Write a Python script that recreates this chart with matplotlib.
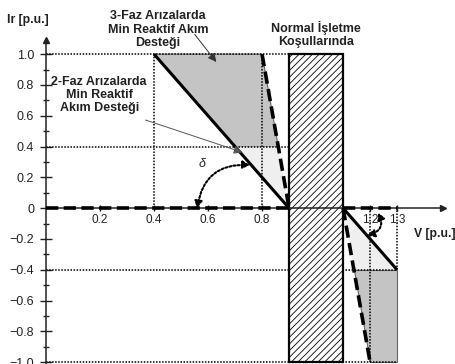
import numpy as np
import matplotlib.pyplot as plt
from matplotlib.patches import Polygon, Rectangle

plt.rcParams['font.family'] = ['Liberation Sans', 'DejaVu Sans']
plt.rcParams['hatch.linewidth'] = 0.6

# --- limit curves (V [p.u.], Ir [p.u.]) ---
solid_under_v = [0.4, 0.9]
solid_under_i = [1.0, 0.0]
dash_under_v = [0.8, 0.9]
dash_under_i = [1.0, 0.0]
solid_over_v = [1.1, 1.3]
solid_over_i = [0.0, -0.4]
dash_over_v = [1.1, 1.2]
dash_over_i = [0.0, -1.0]
normal_band = [0.9, 1.1]
split_level = 0.4

# dotted guide lines
h_guides = [(1.0, 0.0, 0.9), (0.4, 0.0, 0.9), (-0.4, 0.0, 1.3), (-1.0, 0.0, 1.3)]
v_guides = [(0.4, 0.0, 1.0), (0.8, 0.0, 1.0), (1.1, -1.0, 1.0), (1.2, -1.0, 0.0), (1.3, -0.4, 0.0)]

x_ticks = [0.2, 0.4, 0.6, 0.8, 1.0, 1.2, 1.3]
x_labels = ["0.2", "0.4", "0.6", "0.8", "1.0", "1.2", "1.3"]
y_ticks = [1.0, 0.8, 0.6, 0.4, 0.2, 0.0, -0.2, -0.4, -0.6, -0.8, -1.0]
y_labels = ["1.0", "0.8", "0.6", "0.4", "0.2", "0", "\u22120.2", "\u22120.4", "\u22120.6", "\u22120.8", "\u22121.0"]


def v_at(vs, is_, level):
    return float(np.interp(level, is_[::-1], vs[::-1])) if is_[0] > is_[1] else float(np.interp(level, is_, vs))


def main() -> None:
    fig = plt.figure(figsize=(4.56, 3.64), dpi=100)
    ax = fig.add_axes([46 / 456, 0.0, 397 / 456, 323.7 / 364])
    ax.set_xlim(0, 1.47)
    ax.set_ylim(-1.012, 1.09)

    dark, light = "#c4c4c4", "#efefef"

    # --- shaded support regions, under-voltage side ---
    s_top = v_at(solid_under_v, solid_under_i, split_level)
    d_top = v_at(dash_under_v, dash_under_i, split_level)
    ax.add_patch(Polygon([(solid_under_v[0], 1.0), (dash_under_v[0], 1.0), (d_top, split_level), (s_top, split_level)],
                         closed=True, fc=dark, ec="#666666", lw=0.8, zorder=1))
    ax.add_patch(Polygon([(s_top, split_level), (d_top, split_level), (solid_under_v[1], 0.0)],
                         closed=True, fc=light, ec="none", zorder=1))

    # --- over-voltage side ---
    d_low = v_at(dash_over_v, dash_over_i, -split_level)
    ax.add_patch(Polygon([(solid_over_v[0], 0.0), (solid_over_v[1], -split_level), (d_low, -split_level)],
                         closed=True, fc=light, ec="none", zorder=1))
    ax.add_patch(Polygon([(d_low, -split_level), (solid_over_v[1], -split_level), (solid_over_v[1], -1.0), (dash_over_v[1], -1.0)],
                         closed=True, fc=dark, ec="#666666", lw=0.8, zorder=1))

    # --- dotted guides ---
    for y, x0, x1 in h_guides:
        ax.plot([x0, x1], [y, y], color="black", lw=1.1, ls=(0, (1, 1)), zorder=2)
    for x, y0, y1 in v_guides:
        ax.plot([x, x], [y0, y1], color="black", lw=1.1, ls=(0, (1, 1)), zorder=2)

    # --- normal operating band ---
    ax.add_patch(Rectangle((normal_band[0], -1.0), normal_band[1] - normal_band[0], 2.0,
                           fc="white", ec="black", lw=1.6, hatch="/////", zorder=3))

    # --- limit lines ---
    ax.plot(solid_under_v, solid_under_i, color="black", lw=2.2, zorder=5, solid_capstyle="butt")
    ax.plot(solid_over_v, solid_over_i, color="black", lw=2.2, zorder=5, solid_capstyle="butt")
    dash_kw = dict(color="black", lw=2.6, ls=(0, (3.4, 1.5)), zorder=6)
    ax.plot(dash_under_v, dash_under_i, **dash_kw)
    ax.plot(dash_over_v, dash_over_i, **dash_kw)
    ax.plot([0.0, normal_band[0]], [0, 0], **dash_kw)
    ax.plot([normal_band[1], 1.3], [0, 0], **dash_kw)

    # --- axes through origin ---
    for side in ["top", "right"]:
        ax.spines[side].set_visible(False)
    ax.spines["left"].set_position(("data", 0))
    ax.spines["bottom"].set_position(("data", 0))
    for side in ["left", "bottom"]:
        ax.spines[side].set_linewidth(1.1)
        ax.spines[side].set_color("#222222")
        ax.spines[side].set_zorder(4)
    ax.plot(1, 0, ">", color="#222222", ms=4, transform=ax.get_yaxis_transform(), clip_on=False)
    ax.plot(0, 1, "^", color="#222222", ms=4, transform=ax.get_xaxis_transform(), clip_on=False)

    ax.set_xticks(x_ticks)
    ax.set_xticklabels(x_labels)
    ax.set_yticks(y_ticks)
    ax.set_yticklabels(y_labels)
    ax.set_yticks(np.arange(-0.9, 1.0, 0.2), minor=True)
    ax.tick_params(axis="x", direction="inout", length=5, width=1, pad=2, labelsize=8.5, colors="#222222")
    ax.tick_params(axis="y", direction="inout", length=9, width=1, pad=4, labelsize=9, colors="#222222")
    ax.tick_params(axis="y", which="minor", direction="inout", length=4, width=1, colors="#222222")

    # --- labels / annotations ---
    txt = dict(fontsize=9, fontweight="bold", color="#222222", ha="center", va="center", linespacing=1.15)
    ax.text(-0.067, 1.225, "Ir [p.u.]", ha="center", va="center", fontsize=8.8, fontweight="bold",
            color="#222222", clip_on=False)
    ax.text(1.44, -0.17, "V [p.u.]", ha="center", va="center", fontsize=8.8, fontweight="bold",
            color="#222222", clip_on=False)
    ax.text(0.415, 1.158, "3-Faz Arızalarda\nMin Reaktif Akım\nDesteği", clip_on=False, **txt)
    ax.text(0.197, 0.735, "2-Faz Arızalarda\nMin Reaktif\nAkım Desteği", **txt)
    ax.text(1.0, 1.127, "Normal İşletme\nKoşullarında", clip_on=False, **txt)

    ax.annotate("", xy=(0.637, 0.935), xytext=(0.544, 1.143),
                arrowprops=dict(arrowstyle="-|>,head_length=0.5,head_width=0.25", color="#333333", lw=0.7),
                annotation_clip=False, zorder=7)
    ax.annotate("", xy=(0.737, 0.357), xytext=(0.359, 0.578),
                arrowprops=dict(arrowstyle="-|>,head_length=0.5,head_width=0.25", color="#555555", lw=0.7),
                zorder=7)

    arc_kw = dict(arrowstyle="<|-|>,head_length=0.4,head_width=0.22", color="black", lw=1.5,
                  linestyle=(0, (1, 1)), shrinkA=0, shrinkB=0)
    ax.annotate("", xy=(0.755, 0.28), xytext=(0.56, 0.0),
                arrowprops=dict(connectionstyle="arc3,rad=-0.45", **arc_kw), zorder=7)
    ax.annotate("", xy=(1.19, -0.175), xytext=(1.23, -0.03),
                arrowprops=dict(connectionstyle="arc3,rad=-0.6", **arc_kw), zorder=7)
    ax.text(0.578, 0.285, "\u03b4", fontsize=9, style="italic", ha="center", va="center", color="#222222")

    fig.savefig("out.png", dpi=100)
    plt.close(fig)


if __name__ == "__main__":
    main()
